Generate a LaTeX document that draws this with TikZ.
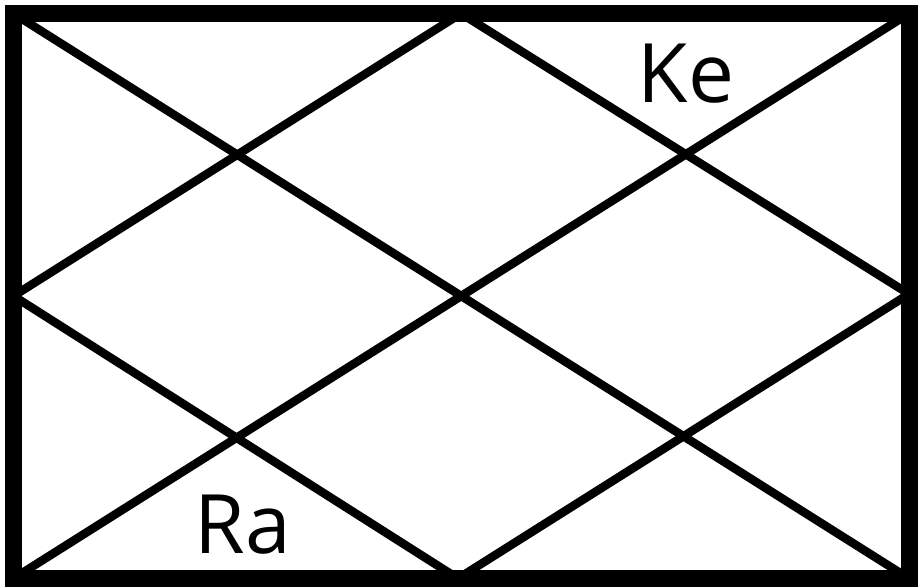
\documentclass[tikz,border=0pt]{standalone}
\usepackage{fontspec}
\setmainfont{Open Sans}
\begin{document}
\begin{tikzpicture}[x=1pt,y=-1pt,
  frame/.style={line width=17pt,draw=black},
  chartline/.style={line width=8.5pt,draw=black},
  planet/.style={font=\fontsize{82}{90}\selectfont,anchor=base,inner sep=0pt}]
\useasboundingbox (0,0) rectangle (922,587);
\coordinate (tl) at (13.5,13.5);
\coordinate (tr) at (909,13.5);
\coordinate (bl) at (13.5,578.5);
\coordinate (br) at (909,578.5);
\coordinate (tm) at (461,13.5);
\coordinate (bm) at (458,578.5);
\coordinate (lm) at (13.5,296);
\coordinate (rm) at (909,294);
\draw[chartline] (tl) -- (br);
\draw[chartline] (tr) -- (bl);
\draw[chartline,line join=miter] (tm) -- (rm) -- (bm) -- (lm) -- cycle;
\draw[frame] (tl) rectangle (br);
\node[planet] (ke) at (686,102) {Ke};
\node[planet] (ra) at (243,553) {Ra};
\end{tikzpicture}
\end{document}
